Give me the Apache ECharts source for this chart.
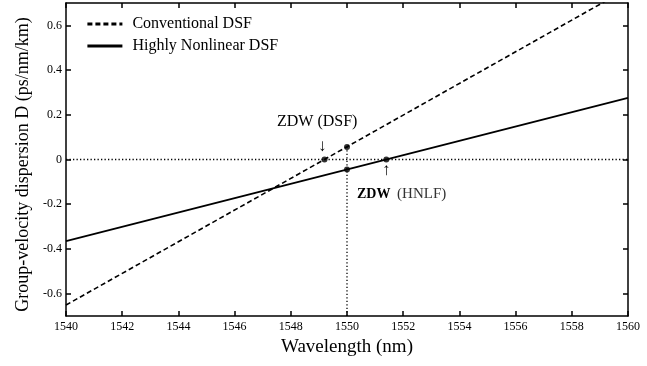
<!DOCTYPE html>
<html>
<head>
<meta charset="utf-8">
<script src="https://cdn.jsdelivr.net/npm/echarts@6/dist/echarts.min.js"></script>
<style>
html,body{margin:0;padding:0;background:#fff;}
#chart{width:647px;height:366px;}
</style>
</head>
<body>
<div id="chart"></div>
<script>
// ---- data ----
const xMin = 1540, xMax = 1560, xStep = 2;
const yMin = -0.7, yMax = 0.7;
const yTicks = [-0.6, -0.4, -0.2, 0, 0.2, 0.4, 0.6];
const seriesNames = ['Conventional DSF', 'Highly Nonlinear DSF'];
const dsfLine = [[1540, -0.651], [1560, 0.765]];
const hnlfLine = [[1540, -0.365], [1560, 0.276]];
const zeroLine = [[1540, 0], [1560, 0]];
const markerLine = [[1550, -0.7], [1550, 0.056]];
const zdwPoints = [[1549.2, 0], [1550, 0.056], [1550, -0.045], [1551.4, 0]];
const labelDSF = 'ZDW (DSF)';
const labelHNLF = ['ZDW', '(HNLF)'];

const FONT = "'Liberation Serif', 'Times New Roman', serif";
const chart = echarts.init(document.getElementById('chart'), null, {renderer: 'canvas'});

const axisLine = {show: true, onZero: false, lineStyle: {color: '#000', width: 1.5}};
const tickIn = {show: true, inside: true, length: 5, lineStyle: {color: '#000', width: 1.5}};

chart.setOption({
  animation: false,
  backgroundColor: '#fff',
  grid: {left: 66, right: 19, top: 3, bottom: 50, containLabel: false},
  legend: {
    orient: 'vertical', left: 86, top: 16, padding: 0, itemWidth: 35, itemHeight: 14, itemGap: 6,
    data: seriesNames,
    textStyle: {fontFamily: FONT, fontSize: 16, color: '#000', padding: [0, 0, 0, 5]},
    lineStyle: {width: 2.8},
    itemStyle: {opacity: 0}
  },
  xAxis: [{
    type: 'value', min: xMin, max: xMax, interval: xStep, position: 'bottom',
    name: 'Wavelength (nm)', nameLocation: 'middle', nameGap: 21,
    nameTextStyle: {fontFamily: FONT, fontSize: 19, color: '#000'},
    axisLine: axisLine, axisTick: tickIn,
    axisLabel: {fontFamily: FONT, fontSize: 12, color: '#000', margin: 5,
      formatter: v => String(v)},
    splitLine: {show: false}
  }, {
    type: 'value', min: xMin, max: xMax, interval: xStep, position: 'top',
    axisLine: axisLine, axisTick: tickIn, axisLabel: {show: false}, splitLine: {show: false}
  }],
  yAxis: [{
    type: 'value', min: yMin, max: yMax, position: 'left',
    name: 'Group-velocity dispersion D (ps/nm/km)', nameLocation: 'middle', nameGap: 30,
    nameTextStyle: {fontFamily: FONT, fontSize: 18, color: '#000', padding: [0, 10, 0, 0]},
    axisLine: axisLine,
    axisTick: Object.assign({customValues: yTicks}, tickIn),
    axisLabel: {customValues: yTicks, fontFamily: FONT, fontSize: 12, color: '#000', margin: 4},
    splitLine: {show: false}
  }, {
    type: 'value', min: yMin, max: yMax, position: 'right',
    axisLine: axisLine,
    axisTick: Object.assign({customValues: yTicks}, tickIn),
    axisLabel: {show: false}, splitLine: {show: false}
  }],
  series: [
    {name: 'zero', type: 'line', data: zeroLine, symbol: 'none', silent: true,
     lineStyle: {color: '#000', width: 1.3, type: [1.3, 2.2]}},
    {name: 'marker', type: 'line', data: markerLine, symbol: 'none', silent: true,
     lineStyle: {color: '#000', width: 1.3, type: [1.3, 2.2]}},
    {name: seriesNames[0], type: 'line', data: dsfLine, symbol: 'none', clip: true,
     itemStyle: {color: '#000'},
     lineStyle: {color: '#000', width: 1.6, type: [5, 3]}},
    {name: seriesNames[1], type: 'line', data: hnlfLine, symbol: 'none', clip: true,
     itemStyle: {color: '#000'},
     lineStyle: {color: '#000', width: 1.8, type: 'solid'}},
    {name: 'ZDW', type: 'scatter', data: zdwPoints, symbol: 'circle', symbolSize: 6,
     itemStyle: {color: '#000'}}
  ],
  graphic: [
    {type: 'text', left: 277, top: 114, style: {text: labelDSF, font: '16px ' + FONT, fill: '#000'}},
    {type: 'text', left: 318, top: 138, style: {text: '\u2193', font: '17px ' + FONT, fill: '#000'}},
    {type: 'text', left: 382, top: 162, style: {text: '\u2191', font: '17px ' + FONT, fill: '#000'}},
    {type: 'text', left: 357, top: 187, style: {
      text: '{a|' + labelHNLF[0] + '}  {b|' + labelHNLF[1] + '}',
      rich: {
        a: {fontFamily: FONT, fontSize: 14, fill: '#000', fontWeight: 'bold'},
        b: {fontFamily: FONT, fontSize: 15, fill: '#333'}
      }
    }}
  ]
});
</script>
</body>
</html>
